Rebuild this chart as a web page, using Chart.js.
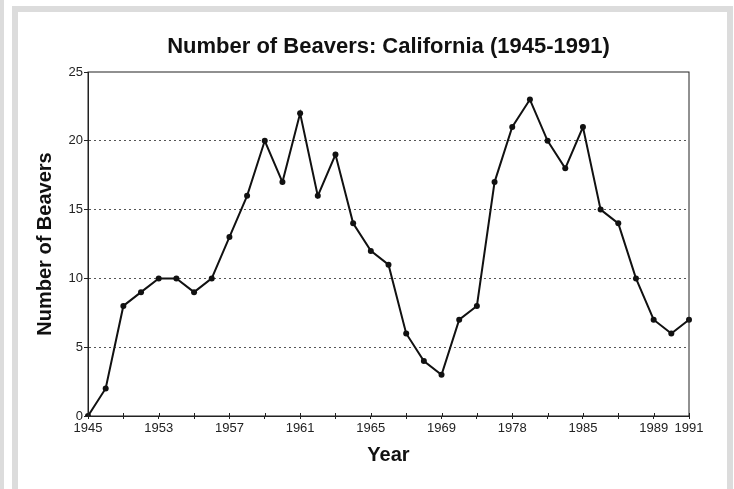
<!DOCTYPE html>
<html lang="en">
<head>
  <meta charset="UTF-8" />
  <title>Number of Beavers: California (1945-1991)</title>
  <script src="https://cdn.jsdelivr.net/npm/chart.js"></script>
  <style>
    body {
      margin: 0;
      width: 734px;
      height: 489px;
      background-color: #fff;
      position: relative;
      overflow: hidden;
      font-family: 'Liberation Sans', Arial, sans-serif;
    }

    .side-bar {
      position: absolute;
      left: 0;
      top: 0;
      width: 4px;
      height: 489px;
      background-color: #dcdcdc;
    }

    .frame {
      position: absolute;
      left: 12px;
      top: 6px;
      width: 709px;
      height: 483px;
      border: 6px solid #dcdcdc;
      border-bottom: none;
      background-color: #fff;
    }

    .chart-box {
      position: absolute;
      left: 18px;
      top: 12px;
      width: 709px;
      height: 477px;
    }
  </style>
</head>
<body>
  <div class="side-bar"></div>
  <div class="frame"></div>
  <div class="chart-box">
    <canvas id="beaverChart" width="709" height="477"></canvas>
  </div>
  <script>
    // one label per point, only some are printed on the axis
    const yearLabels = [
      "1945", "", "", "", "1953", "", "", "", "1957", "", "", "", "1961", "", "", "", "1965", "",
      "", "", "1969", "", "", "", "1978", "", "", "", "1985", "", "", "", "1989", "", "1991"
    ];
    const beavers = [
      0, 2, 8, 9, 10, 10, 9, 10, 13, 16, 20, 17, 22, 16, 19, 14, 12, 11,
      6, 4, 3, 7, 8, 17, 21, 23, 20, 18, 21, 15, 14, 10, 7, 6, 7
    ];
    const yTicks = [0, 5, 10, 15, 20, 25];
    const chartTitle = "Number of Beavers: California (1945-1991)";

    const fontFamily = "'Liberation Sans', Arial, sans-serif";

    // solid box round the plot, x tick marks that cross the axis,
    // and the title centred over the plot area (not the whole canvas)
    const plotBorder = {
      id: "plotBorder",
      afterDraw(chart) {
        const { ctx, chartArea } = chart;
        const xScale = chart.scales.x;
        ctx.save();
        ctx.strokeStyle = "#222";
        ctx.lineWidth = 1;
        ctx.strokeRect(chartArea.left, chartArea.top, chartArea.right - chartArea.left, chartArea.bottom - chartArea.top);
        ctx.beginPath();
        for (let i = 0; i < yearLabels.length; i += 2) {
          const x = Math.round(xScale.getPixelForTick(i)) + 0.5;
          ctx.moveTo(x, chartArea.bottom - 3);
          ctx.lineTo(x, chartArea.bottom);
        }
        ctx.stroke();

        ctx.fillStyle = "#111";
        ctx.font = "bold 22px " + fontFamily;
        ctx.textAlign = "center";
        ctx.textBaseline = "middle";
        ctx.fillText(chartTitle, (chartArea.left + chartArea.right) / 2, 35);
        ctx.restore();
      }
    };

    new Chart(document.getElementById("beaverChart"), {
      type: "line",
      data: {
        labels: yearLabels,
        datasets: [
          {
            label: "Number of Beavers",
            data: beavers,
            borderColor: "#111",
            backgroundColor: "#111",
            borderWidth: 2,
            pointRadius: 3,
            pointBackgroundColor: "#111",
            pointBorderWidth: 0,
            tension: 0,
            fill: false
          }
        ]
      },
      options: {
        responsive: false,
        animation: false,
        layout: {
          padding: { top: 60, right: 38, bottom: 0, left: 0 }
        },
        plugins: {
          legend: { display: false },
          tooltip: { enabled: false },
          title: { display: false }
        },
        scales: {
          x: {
            type: "category",
            offset: false,
            afterFit: (scale) => { scale.height = 73; },
            grid: {
              drawOnChartArea: false,
              tickLength: 3,
              color: (c) => (c.index % 2 === 0 ? "#222" : "rgba(0,0,0,0)")
            },
            border: { display: true, color: "#222", width: 1 },
            ticks: {
              autoSkip: false,
              maxRotation: 0,
              minRotation: 0,
              padding: 2,
              color: "#222",
              font: { family: fontFamily, size: 13 }
            },
            title: {
              display: true,
              text: "Year",
              color: "#111",
              font: { family: fontFamily, size: 20, weight: "bold" },
              padding: { top: 4, bottom: 22 }
            }
          },
          y: {
            min: 0,
            max: 25,
            afterFit: (scale) => { scale.width = 70; },
            afterBuildTicks: (scale) => { scale.ticks = yTicks.map((v) => ({ value: v })); },
            grid: {
              tickLength: 4,
              color: (c) => (c.tick && (c.tick.value === 0 || c.tick.value === 25) ? "rgba(0,0,0,0)" : "#555"),
              tickColor: "#222"
            },
            border: { display: true, color: "#222", width: 1, dash: [2, 3] },
            ticks: {
              padding: 1,
              color: "#222",
              font: { family: fontFamily, size: 13 }
            },
            title: {
              display: true,
              text: "Number of Beavers",
              color: "#111",
              font: { family: fontFamily, size: 20, weight: "bold" },
              padding: { top: 15, bottom: 0 }
            }
          }
        }
      },
      plugins: [plotBorder]
    });
  </script>
</body>
</html>
